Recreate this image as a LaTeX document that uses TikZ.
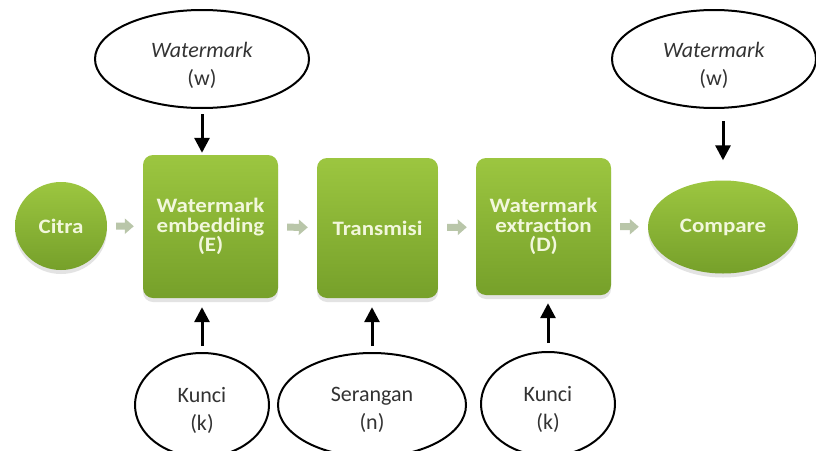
\documentclass[tikz,border=0pt]{standalone}
\usepackage{fontspec}
\setmainfont{Carlito}
\newfontfamily\boxfont[FakeStretch=1.12]{Carlito}
\usepackage{xcolor}
\usetikzlibrary{shapes.geometric, arrows.meta, shadows}

\definecolor{greenTop}{HTML}{9CC640}
\definecolor{greenBot}{HTML}{76A02A}
\definecolor{flowGray}{HTML}{B9C6A9}
\definecolor{textCream}{HTML}{F2F7DC}

\begin{document}
\begin{tikzpicture}[x=1pt, y=-1pt,
    greenbox/.style={rectangle, rounded corners=10pt, top color=greenTop, bottom color=greenBot,
        draw=none, inner sep=0pt, align=center, text=textCream,
        font=\boxfont\bfseries\fontsize{20.5}{19.5}\selectfont,
        drop shadow={shadow xshift=0pt, shadow yshift=-4pt, opacity=0.22}},
    greenoval/.style={ellipse, top color=greenTop, bottom color=greenBot, draw=none, inner sep=0pt,
        text=textCream, font=\boxfont\bfseries\fontsize{20.5}{19.5}\selectfont,
        drop shadow={shadow xshift=0pt, shadow yshift=-4pt, opacity=0.22}},
    inputoval/.style={ellipse, draw=black, line width=2pt, fill=white, inner sep=0pt},
    inputtext/.style={align=center, inner sep=0pt, text=black!80, font=\fontsize{22}{28}\selectfont},
    flowarrow/.style={-{Triangle[width=15pt,length=9pt]}, line width=7pt, draw=flowGray,
        shorten <=9pt, shorten >=9pt},
    keyarrow/.style={-{Triangle[width=15pt,length=15pt]}, line width=3pt, draw=black}]

    % Frame
    \clip (0,0) rectangle (816,450);
    \fill[white] (0,0) rectangle (816,450);

    % Main flow
    \node[greenoval, minimum width=92pt, minimum height=88pt] (citra) at (61,226) {Citra};
    \node[greenbox, minimum width=135pt, minimum height=143pt] (embed) at (210.5,226.5)
        {Watermark\\embedding\\(E)};
    \node[greenbox, minimum width=121pt, minimum height=140pt] (transmisi) at (377.5,228) {Transmisi};
    \node[greenbox, minimum width=135pt, minimum height=137pt] (extract) at (543.5,226.5)
        {Watermark\\extraction\\(D)};
    \node[greenoval, minimum width=150pt, minimum height=93pt] (compare) at (723,227) {Compare};

    \draw[flowarrow] (citra) -- (embed);
    \draw[flowarrow] (embed) -- (transmisi);
    \draw[flowarrow] (transmisi) -- (extract);
    \draw[flowarrow] (extract) -- (compare);

    % Inputs above
    \node[inputoval, minimum width=214pt, minimum height=98pt] (wmE) at (202,59) {};
    \node[inputtext] (wmEtext) at ([yshift=-6pt]wmE.center) {\textit{Watermark}\\(w)};
    \node[inputoval, minimum width=204pt, minimum height=98pt] (wmC) at (714,59) {};
    \node[inputtext] (wmCtext) at ([yshift=-6pt]wmC.center) {\textit{Watermark}\\(w)};

    \draw[keyarrow, shorten <=5pt, shorten >=2pt] (wmE) -- (wmE |- embed.north);
    \draw[keyarrow, shorten <=12pt, shorten >=20pt] (compare |- wmC.south) -- (compare.north);

    % Inputs below
    \node[inputoval, minimum width=134pt, minimum height=104pt] (kunciE) at (202,405) {};
    \node[inputtext] (kunciEtext) at ([yshift=-5pt]kunciE.center) {Kunci\\(k)};
    \node[inputoval, minimum width=188pt, minimum height=104pt] (serangan) at (372,405) {};
    \node[inputtext] (serangantext) at ([yshift=-5pt]serangan.center) {Serangan\\(n)};
    \node[inputoval, minimum width=134pt, minimum height=104pt] (kunciD) at (548,404) {};
    \node[inputtext] (kunciDtext) at ([yshift=-5pt]kunciD.center) {Kunci\\(k)};

    \draw[keyarrow, shorten <=6pt, shorten >=9pt] (kunciE) -- (kunciE |- embed.south);
    \draw[keyarrow, shorten <=6pt, shorten >=9pt] (serangan) -- (serangan |- transmisi.south);
    \draw[keyarrow, shorten <=8pt, shorten >=8pt] (kunciD) -- (kunciD |- extract.south);

\end{tikzpicture}
\end{document}
